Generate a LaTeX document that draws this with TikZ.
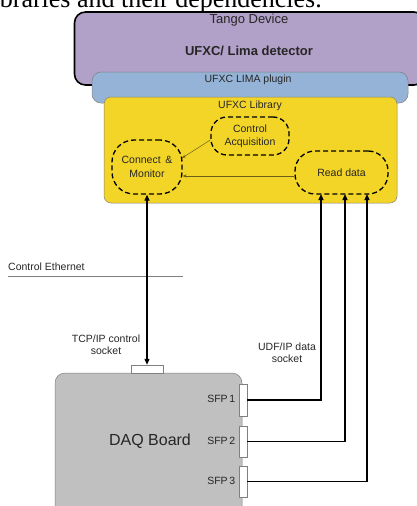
\documentclass[tikz,border=0pt]{standalone}
\usepackage{fontspec}
\setmainfont{Liberation Sans}
\newfontfamily\serifdoc{Liberation Serif}
\usetikzlibrary{arrows.meta}
\definecolor{tangopurple}{HTML}{B1A0C7}
\definecolor{pluginblue}{HTML}{95B3D7}
\definecolor{libyellow}{HTML}{F3D527}
\definecolor{daqgrey}{HTML}{C0C0C0}
\definecolor{edgegrey}{HTML}{808080}
\definecolor{thinarrow}{HTML}{6B5E1A}
\tikzset{
  lbl/.style={font=\fontsize{10.5}{12}\selectfont, text=black!85, inner sep=0pt, align=center},
  dashbox/.style={draw=black, line width=1.3pt, dash pattern=on 5pt off 3pt, rounded corners=16pt, inner sep=0pt},
  conn/.style={draw=edgegrey, fill=white, line width=0.5pt},
  wire/.style={line width=1.2pt},
  smallarrow/.style={draw=thinarrow, line width=0.5pt, -{Stealth[length=4pt,width=3pt]}}
}
\begin{document}
\begin{tikzpicture}[x=1pt,y=-1pt]
\useasboundingbox (0,0) rectangle (417,506);
\begin{scope}
\clip (0,0) rectangle (417,506);
% clipped document line at top
\node[anchor=base east, inner sep=0pt, font=\serifdoc\fontsize{26}{28}\selectfont] (doctext) at (322,8) {libraries and their dependencies.};
% Tango device
\draw[fill=tangopurple, line width=1.6pt, rounded corners=11pt] (74.5,12) rectangle (425,85);
\node[lbl, font=\fontsize{13}{15}\selectfont] (tango) at (249,20.5) {Tango Device};
\node[lbl, font=\bfseries\fontsize{13}{15}\selectfont] (ufxclima) at (249,50.5) {UFXC/ Lima detector};
% plugin
\draw[fill=pluginblue, draw=edgegrey, line width=0.5pt, rounded corners=9pt] (92,72) rectangle (408,103);
\node[lbl] (plugin) at (248,80) {UFXC LIMA plugin};
% library
\draw[fill=libyellow, draw=edgegrey, line width=0.5pt, rounded corners=7pt] (104,97) rectangle (397,203);
\node[lbl] (library) at (250,105.5) {UFXC Library};
% inner dashed boxes
\node[dashbox, minimum width=78pt, minimum height=38pt, lbl] (ctrl) at (250,136) {Control\\[1pt]Acquisition};
\node[dashbox, minimum width=70pt, minimum height=54pt, rounded corners=22pt, lbl] (cm) at (147,167) {Connect \,\&\\[2pt]Monitor};
\node[dashbox, minimum width=93pt, minimum height=43pt, rounded corners=20pt, lbl] (rd) at (341.5,172.5) {Read data};
\draw[smallarrow] (ctrl.west |- 0,140) -- (182,158);
\draw[smallarrow] (rd.west |- 0,176) -- (cm.east |- 0,176);
% Control Ethernet
\node[lbl, anchor=west] (ceth) at (8,267) {Control Ethernet};
\draw[edgegrey, line width=0.5pt] (8,276) coordinate (ethL) -- (183,276) coordinate (ethR);
% DAQ board
\draw[fill=daqgrey, draw=edgegrey, line width=0.5pt, rounded corners=10pt] (55,373) rectangle (242,530);
\node[lbl, font=\fontsize{16}{18}\selectfont] (daq) at (150,441.5) {DAQ Board};
\node[conn, minimum width=32pt, minimum height=8pt, inner sep=0pt] (tcp) at (147,369) {};
\node[conn, minimum width=8pt, minimum height=32pt, inner sep=0pt] (sfpa) at (243,400) {};
\node[conn, minimum width=8pt, minimum height=31pt, inner sep=0pt] (sfpb) at (243,441.5) {};
\node[conn, minimum width=8pt, minimum height=31pt, inner sep=0pt] (sfpc) at (243,481.5) {};
\node[lbl, anchor=east] (s1) at (235.5,398.5) {SFP\,1};
\node[lbl, anchor=east] (s2) at (235.5,441) {SFP\,2};
\node[lbl, anchor=east] (s3) at (235.5,481) {SFP\,3};
\node[lbl] (tcplbl) at (106,344.5) {TCP/IP control\\socket};
\node[lbl] (udplbl) at (287,353) {UDF/IP data\\socket};
% connectors
\draw[line width=1.2pt, {Triangle[length=6pt,width=5pt]}-{Triangle[length=6pt,width=5pt]}] (cm.south) -- (tcp.north);
\draw[wire, -{Triangle[length=6pt,width=5pt]}] (sfpa.east) -| (321,194);
\draw[wire, -{Triangle[length=6pt,width=5pt]}] (sfpb.east) -| (345,194);
\draw[wire, -{Triangle[length=6pt,width=5pt]}] (sfpc.east) -| (367,194);
\end{scope}
\end{tikzpicture}
\end{document}
